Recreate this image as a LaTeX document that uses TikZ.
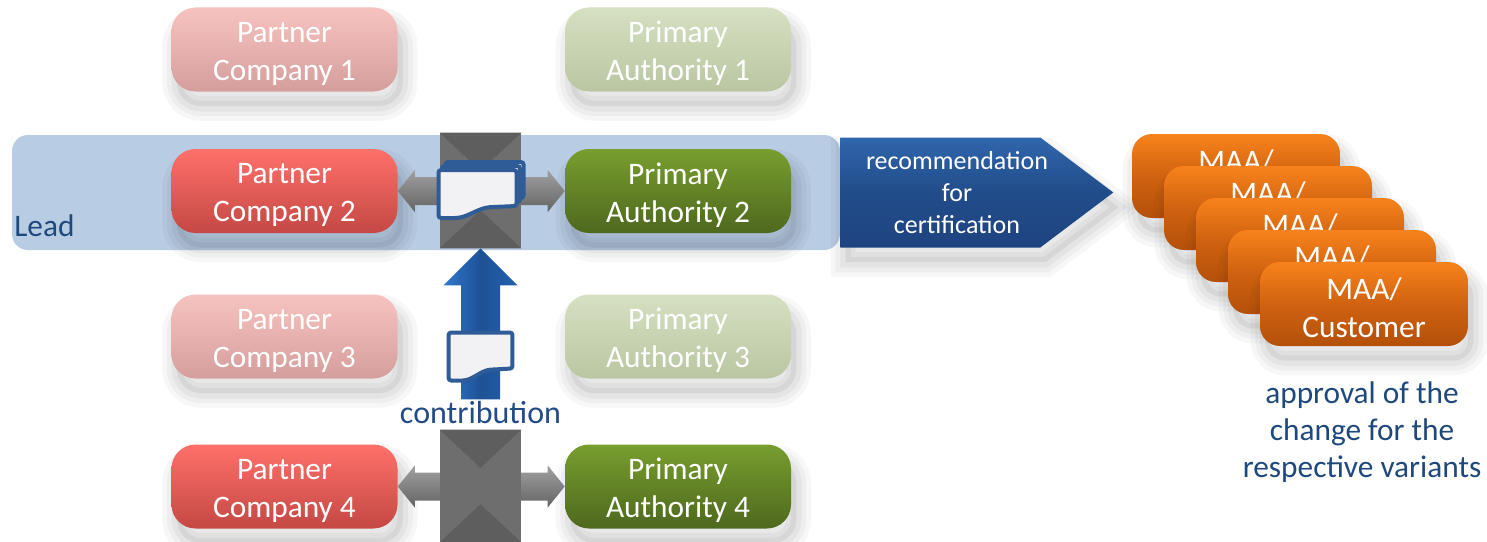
\documentclass[tikz,border=0pt]{standalone}
\usepackage{fontspec}
\setmainfont{Carlito}
\usetikzlibrary{calc}
\definecolor{leadblue}{RGB}{184,204,228}
\definecolor{darkblue}{RGB}{31,73,125}
\definecolor{docblue}{RGB}{47,92,150}
\begin{document}
\begin{tikzpicture}[x=0.75pt,y=-0.75pt,
  sh/.style={
    preaction={draw=black,draw opacity=0.03,line width=22pt,transform canvas={shift={(4pt,-11pt)}}},
    preaction={draw=black,draw opacity=0.035,line width=15pt,transform canvas={shift={(4pt,-11pt)}}},
    preaction={draw=black,draw opacity=0.04,line width=8pt,transform canvas={shift={(4pt,-11pt)}}},
    preaction={fill=black,fill opacity=0.06,transform canvas={shift={(4pt,-11pt)}}}},
  boxtext/.style={text=white,font=\fontsize{23.5}{28.5}\selectfont,align=center,inner sep=0pt,yshift=-3pt},
  box/.style={rounded corners=18pt,minimum width=169.5pt,minimum height=63pt,inner sep=0pt,sh},
  redbox/.style={box,top color={rgb,255:red,255;green,112;blue,106},bottom color={rgb,255:red,196;green,72;blue,68}},
  pinkbox/.style={box,top color={rgb,255:red,247;green,195;blue,193},bottom color={rgb,255:red,212;green,158;blue,156}},
  greenbox/.style={box,top color={rgb,255:red,120;green,158;blue,46},bottom color={rgb,255:red,78;green,104;blue,30}},
  palegreen/.style={box,top color={rgb,255:red,214;green,224;blue,194},bottom color={rgb,255:red,186;green,198;blue,162}},
  maabox/.style={rounded corners=15pt,minimum width=156pt,minimum height=63pt,inner sep=0pt,sh,
    top color={rgb,255:red,248;green,130;blue,28},bottom color={rgb,255:red,180;green,80;blue,10},
    middle color={rgb,255:red,208;green,98;blue,16}},
  hub/.style={fill={rgb,255:red,110;green,110;blue,110},minimum width=60.75pt,inner sep=0pt},
  hubdark/.style={fill={rgb,255:red,94;green,94;blue,94}},
  garrow/.style={top color={rgb,255:red,160;green,160;blue,160},bottom color={rgb,255:red,100;green,100;blue,100},
    middle color={rgb,255:red,130;green,130;blue,130}},
  bluearrow/.style={left color={rgb,255:red,48;green,118;blue,205},right color={rgb,255:red,36;green,95;blue,175},
    middle color={rgb,255:red,30;green,82;blue,150}},
  docpage/.style={draw=docblue,line width=3pt,rounded corners=2pt,fill={rgb,255:red,242;green,242;blue,244}},
  bluetext/.style={text=darkblue,font=\fontsize{23.5}{28.5}\selectfont,align=center,inner sep=0pt},
  docicon/.pic={
    \path[docpage] (-39,-24) -- (39,-24) -- (39,12) -- (15,13) .. controls (0,14) and (-10,24) .. (-25,24) -- (-39,24) -- cycle;
  },
  backpage/.pic={
    \path[docpage] (-39,-24) rectangle (39,12);
  }
]
\useasboundingbox (0,0) rectangle (1487,542);
\fill[white] (0,0) rectangle (1487,542);

% lead band
\node[fill=leadblue,rounded corners=12pt,minimum width=621pt,minimum height=86.25pt,inner sep=0pt] (lead) at (426,192.5) {};
\node[bluetext,anchor=west] (leadtxt) at (14,226) {Lead};

% partner companies
\node[pinkbox,label={[boxtext]center:{Partner\\Company 1}}] (pc1) at (284.5,49.5) {};
\node[redbox,label={[boxtext]center:{Partner\\Company 2}}] (pc2) at (284.5,191) {};
\node[pinkbox,label={[boxtext]center:{Partner\\Company 3}}] (pc3) at (284.5,336.5) {};
\node[redbox,label={[boxtext]center:{Partner\\Company 4}}] (pc4) at (284.5,486.5) {};
% primary authorities
\node[palegreen,label={[boxtext]center:{Primary\\Authority 1}}] (pa1) at (678,49.5) {};
\node[greenbox,label={[boxtext]center:{Primary\\Authority 2}}] (pa2) at (678,191) {};
\node[palegreen,label={[boxtext]center:{Primary\\Authority 3}}] (pa3) at (678,336.5) {};
\node[greenbox,label={[boxtext]center:{Primary\\Authority 4}}] (pa4) at (678,486.5) {};

% double arrows
\shade[garrow] (pc2.east) -- ++(17,-21) -- ++(0,7) -- ($(pa2.west)+(-17,-14)$) -- ++(0,-7) -- (pa2.west)
  -- ++(-17,21) -- ++(0,-7) -- ($(pc2.east)+(17,14)$) -- ++(0,7) -- cycle;
\shade[garrow] (pc4.east) -- ++(17,-21) -- ++(0,7) -- ($(pa4.west)+(-17,-14)$) -- ++(0,-7) -- (pa4.west)
  -- ++(-17,21) -- ++(0,-7) -- ($(pc4.east)+(17,14)$) -- ++(0,7) -- cycle;

% hubs
\node[hub,minimum height=86.25pt] (hub1) at (480.5,190.5) {};
\fill[hubdark] (hub1.north west) -- (hub1.north east) -- ($(hub1.north)+(0,38)$) -- cycle;
\fill[hubdark] (hub1.south west) -- (hub1.south east) -- ($(hub1.south)+(0,-38)$) -- cycle;
\node[hub,minimum height=84pt] (hub2) at (480.5,486) {};
\fill[hubdark] (hub2.north west) -- (hub2.north east) -- ($(hub2.north)+(0,38)$) -- cycle;
\fill[hubdark] (hub2.south west) -- (hub2.south east) -- ($(hub2.south)+(0,-38)$) -- cycle;

% documents on hub 1
\pic at (484.5,186) {backpage};
\pic at (481,190) {backpage};
\pic at (477.5,194) {docicon};

% contribution arrow
\shade[bluearrow] (hub1.south) -- ++(37,37) -- ++(-17.5,0) -- ++(0,114) -- ++(-39,0) -- ++(0,-114) -- ++(-17.5,0) -- cycle;
\pic[xscale=0.82] at (480.5,356.5) {docicon};
\node[bluetext,font=\fontsize{24}{28.5}\selectfont,text={rgb,255:red,35;green,75;blue,135}] (contrib) at (480.5,413) {contribution};

% recommendation arrow
\shade[sh,top color={rgb,255:red,48;green,102;blue,172},bottom color={rgb,255:red,30;green,68;blue,128},
  middle color={rgb,255:red,33;green,76;blue,138}]
  ($(lead.east)+(0,-55)$) -- ++(200,0) -- ++(73,55) -- ++(-73,55) -- ++(-200,0) -- cycle;
\node[text=white,font=\fontsize{19.5}{24}\selectfont,align=center,inner sep=0pt] (rec) at (957,193) {recommendation\\for\\certification};

% MAA stack
\node[maabox,label={[boxtext]center:{MAA/\\\phantom{Customer}}}] (maa1) at (1236,176) {};
\node[maabox,label={[boxtext]center:{MAA/\\\phantom{Customer}}}] (maa2) at (1268,208) {};
\node[maabox,label={[boxtext]center:{MAA/\\\phantom{Customer}}}] (maa3) at (1300,240) {};
\node[maabox,label={[boxtext]center:{MAA/\\\phantom{Customer}}}] (maa4) at (1332,272) {};
\node[maabox,label={[boxtext]center:{MAA/\\Customer}}] (maa5) at (1364,304) {};

\node[bluetext,font=\fontsize{23.5}{28}\selectfont] (approval) at (1362,432) {approval of the\\change for the\\respective variants};
\end{tikzpicture}
\end{document}
